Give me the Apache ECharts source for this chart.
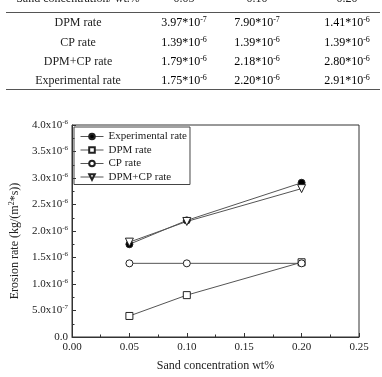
<!DOCTYPE html>
<html><head><meta charset="utf-8">
<script src="https://cdn.jsdelivr.net/npm/echarts@6/dist/echarts.min.js"></script>
<style>html,body{margin:0;padding:0;background:#fff}#c{width:382px;height:377px}</style>
</head><body><div id="c"></div>
<script>
const concentrations = [0.05, 0.10, 0.20];
const experimental = [1.75e-6, 2.20e-6, 2.91e-6];
const dpm = [3.97e-7, 7.90e-7, 1.41e-6];
const cp = [1.39e-6, 1.39e-6, 1.39e-6];
const dpmcp = [1.79e-6, 2.18e-6, 2.80e-6];
const tableRowNames = ['DPM rate', 'CP rate', 'DPM+CP rate', 'Experimental rate'];
const tableRowValues = [dpm, cp, dpmcp, experimental];
const headerLabel = 'Sand concentration/ wt.%';

const FONT = '"Liberation Serif", "Times New Roman", serif';
const colX = [78, 184, 257, 347];
const rowY = [23, 43, 62, 81];

function sci(v) {
  const e = Math.floor(Math.log10(v) + 1e-9);
  const m = v / Math.pow(10, e);
  return '{b|' + m.toFixed(2) + '*10}{s|' + e + '}';
}
const rich = {
  b: {fontFamily: FONT, fontSize: 12, color: '#222'},
  s: {fontFamily: FONT, fontSize: 8, color: '#222', verticalAlign: 'bottom', padding: [0, 0, 7, 0]}
};

const gfx = [];
gfx.push({type: 'text', x: colX[0], y: -1, style: {text: headerLabel, font: '12px ' + FONT, fill: '#222', align: 'center', verticalAlign: 'middle'}});
concentrations.forEach((c, i) => {
  gfx.push({type: 'text', x: colX[i + 1], y: -1, style: {text: c.toFixed(2), font: '12px ' + FONT, fill: '#222', align: 'center', verticalAlign: 'middle'}});
});
gfx.push({type: 'line', shape: {x1: 6, y1: 12.5, x2: 380, y2: 12.5}, style: {stroke: '#555', lineWidth: 1}});
gfx.push({type: 'line', shape: {x1: 6, y1: 89.5, x2: 380, y2: 89.5}, style: {stroke: '#555', lineWidth: 1}});
tableRowNames.forEach((n, r) => {
  gfx.push({type: 'text', x: colX[0], y: rowY[r], style: {text: n, font: '12px ' + FONT, fill: '#222', align: 'center', verticalAlign: 'middle'}});
  tableRowValues[r].forEach((v, i) => {
    gfx.push({type: 'text', x: colX[i + 1], y: rowY[r], style: {text: sci(v), rich: rich, align: 'center', verticalAlign: 'middle'}});
  });
});

function yFmt(v) {
  const t = Math.round(v * 1e7);
  if (t === 0) return '{b|0.0}';
  if (t < 10) return '{b|' + t.toFixed(1) + 'x10}{s|-7}';
  return '{b|' + (t / 10).toFixed(1) + 'x10}{s|-6}';
}
const axisRich = {
  b: {fontFamily: FONT, fontSize: 11, color: '#222'},
  s: {fontFamily: FONT, fontSize: 7, color: '#222', verticalAlign: 'bottom', padding: [0, 0, 6, 0]}
};

const lineStyle = {color: '#555', width: 1};
function mk(name, data, symbol, fill, size, rot) {
  return {
    name: name, type: 'line', data: concentrations.map((c, i) => [c, data[i]]),
    symbol: symbol, symbolSize: size, symbolRotate: rot || 0, showAllSymbol: true,
    lineStyle: lineStyle,
    itemStyle: {color: fill, borderColor: '#222', borderWidth: 1},
    emphasis: {disabled: true}, animation: false
  };
}

const chart = echarts.init(document.getElementById('c'), null, {renderer: 'canvas'});
chart.setOption({
  animation: false,
  backgroundColor: '#fff',
  graphic: gfx,
  grid: {left: 66, right: 23, top: 125, bottom: 38, show: true, borderColor: '#333', borderWidth: 1, backgroundColor: 'transparent'},
  legend: {
    orient: 'vertical', left: 74, top: 127,
    borderColor: '#444', borderWidth: 1, borderRadius: 0,
    padding: [4, 3, 2, 6], itemGap: 2.5, itemWidth: 23, itemHeight: 7, itemTextGap: 3,
    lineStyle: {width: 1, color: '#555'},
    textStyle: {fontFamily: FONT, fontSize: 11, color: '#222', lineHeight: 11},
    data: ['Experimental rate', 'DPM rate', 'CP rate', 'DPM+CP rate']
  },
  xAxis: {
    type: 'value', min: 0, max: 0.25, interval: 0.05,
    name: 'Sand concentration wt%', nameLocation: 'middle', nameGap: 23,
    nameTextStyle: {fontFamily: FONT, fontSize: 12, color: '#222'},
    axisLine: {lineStyle: {color: '#333', width: 1}},
    axisTick: {inside: true, length: 4, lineStyle: {color: '#333'}},
    minorTick: {show: true, splitNumber: 2, length: 2.5, lineStyle: {color: '#333'}},
    splitLine: {show: false},
    axisLabel: {fontFamily: FONT, fontSize: 11, color: '#222', margin: 5, formatter: v => v.toFixed(2)}
  },
  yAxis: {
    type: 'value', min: 0, max: 4e-6, interval: 0.5e-6,
    name: 'Erosion rate (kg/(m{sup|2}*s))', nameLocation: 'middle', nameGap: 50, nameRotate: 90,
    nameTextStyle: {fontFamily: FONT, fontSize: 12, color: '#222', padding: [0, 20, 0, 0],
      rich: {sup: {fontFamily: FONT, fontSize: 8, color: '#222', verticalAlign: 'bottom', padding: [0, 0, 6, 0]}}},
    axisLine: {show: true, lineStyle: {color: '#333', width: 1}},
    axisTick: {show: true, inside: true, length: 4, lineStyle: {color: '#333'}},
    minorTick: {show: true, splitNumber: 2, length: 2.5, lineStyle: {color: '#333'}},
    splitLine: {show: false},
    axisLabel: {margin: 4, formatter: yFmt, rich: axisRich}
  },
  series: [
    mk('Experimental rate', experimental, 'circle', '#000', 7),
    mk('DPM rate', dpm, 'rect', '#fff', 7),
    mk('CP rate', cp, 'circle', '#fff', 7),
    mk('DPM+CP rate', dpmcp, 'triangle', '#fff', 8, 180)
  ]
});
</script></body></html>
